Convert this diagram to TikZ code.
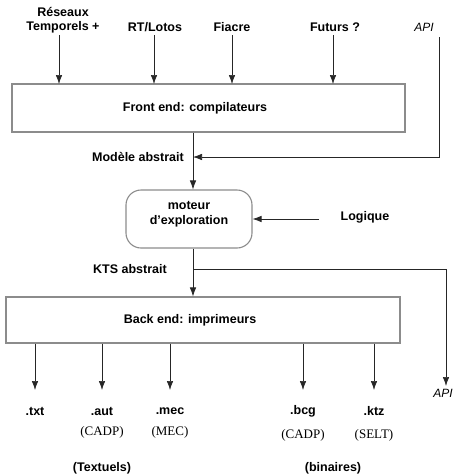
\documentclass[tikz,border=0pt]{standalone}
\usepackage{fontspec}
\setmainfont{Liberation Serif}
\setsansfont{Liberation Sans}
\usetikzlibrary{arrows.meta}

\tikzset{
  box/.style={draw=black!45, line width=1.1pt, inner sep=0pt},
  lbl/.style={font=\sffamily\bfseries\fontsize{12.5}{14}\selectfont, inner sep=0pt, align=center},
  tool/.style={font=\rmfamily\fontsize{13}{15}\selectfont, inner sep=0pt},
  api/.style={font=\sffamily\itshape\fontsize{12}{14}\selectfont, inner sep=0pt},
  arr/.style={draw=black!85, line width=0.7pt, -{Latex[length=9pt,width=6.5pt]}},
}

\begin{document}
\begin{tikzpicture}[x=1pt,y=-1pt]
\useasboundingbox (0,0) rectangle (454,475);

% main blocks
\node[box, minimum width=393pt, minimum height=48pt] (front) at (208.5,108) {};
\node[lbl] (fronttxt) at (195,108) {Front end: compilateurs};
\node[box, rounded corners=15pt, minimum width=126pt, minimum height=58pt] (moteur) at (189,219) {};
\node[lbl, font=\sffamily\bfseries\fontsize{12.5}{15}\selectfont] (motxt) at (189,214.5) {moteur\\d'exploration};
\node[box, minimum width=394pt, minimum height=46pt] (back) at (203,320) {};
\node[lbl] (backtxt) at (190,320) {Back end: imprimeurs};

% input languages
\node[lbl] (in1) at (63,20) {Réseaux\\Temporels +};
\node[lbl] (in2) at (155,27) {RT/Lotos};
\node[lbl] (in3) at (232,27) {Fiacre};
\node[lbl] (in4) at (335,27) {Futurs ?};
\node[api] (apiin) at (424,27) {API};

\coordinate (a1) at (59,84);
\coordinate (a2) at (154,84);
\coordinate (a3) at (232,84);
\coordinate (a4) at (333,84);
\draw[arr] (a1 |- 0,35) -- (a1);
\draw[arr] (a2 |- 0,35) -- (a2);
\draw[arr] (a3 |- 0,35) -- (a3);
\draw[arr] (a4 |- 0,35) -- (a4);

% abstract model
\coordinate (spine) at (193,0);
\node[lbl, anchor=east] (modele) at (184,157) {Modèle abstrait};
\draw[arr] (front.south -| spine) -- (moteur.north -| spine);
\coordinate (apitop) at (439,37);
\draw[arr] (apitop) |- (spine |- modele.east);

% logic input
\node[lbl] (logique) at (365,217) {Logique};
\draw[arr] (319,219) -- (moteur.east |- 0,219);

% abstract KTS
\node[lbl] (kts) at (130,269) {KTS abstrait};
\draw[arr] (moteur.south -| spine) -- (back.north -| spine);
\node[api] (apiout) at (443,393) {API};
\coordinate (apiend) at (446,386);
\draw[arr] (spine |- kts.east) -| (apiend);

% outputs
\node[lbl] (o1) at (35,411) {.txt};
\node[lbl] (o2) at (102,411) {.aut};
\node[lbl] (o3) at (170,411) {.mec};
\node[lbl] (o4) at (303,411) {.bcg};
\node[lbl] (o5) at (374,411) {.ktz};
\foreach \o in {o1,o2,o3,o4,o5}
  \draw[arr] (back.south -| \o) -- (\o |- 0,390);

\node[tool] (t2) at (102,432) {(CADP)};
\node[tool] (t3) at (170,432) {(MEC)};
\node[tool] (t4) at (303,435) {(CADP)};
\node[tool] (t5) at (374,435) {(SELT)};

\node[lbl] (textuels) at (102,468) {(Textuels)};
\node[lbl] (binaires) at (333,468) {(binaires)};
\end{tikzpicture}
\end{document}
